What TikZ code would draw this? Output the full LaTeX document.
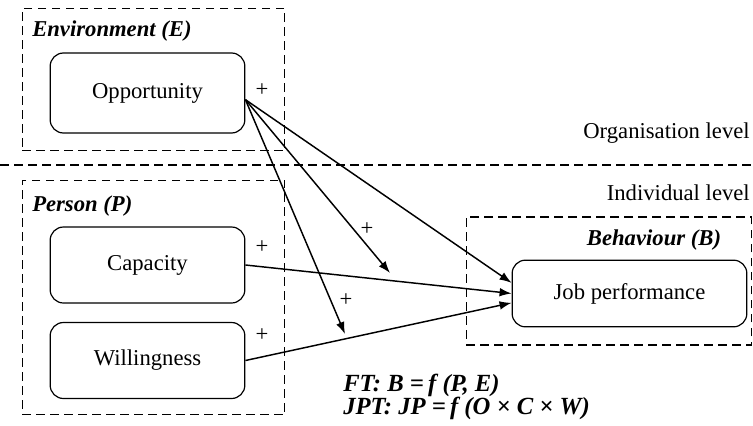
\documentclass[tikz,border=0pt]{standalone}
\usepackage{fontspec}
\setmainfont{Liberation Serif}
\usepackage{tikz}
\usetikzlibrary{arrows.meta, positioning, calc}

\begin{document}
\begin{tikzpicture}[
  x=0.75pt, y=-0.75pt,
  group/.style={rectangle, draw=black, dash pattern=on 6.5pt off 4pt, line width=0.9pt,
                inner sep=0pt},
  factor/.style={rectangle, rounded corners=10pt, draw=black, line width=0.9pt,
                 minimum width=146pt, align=center, font=\fontsize{17}{20}\selectfont},
  grouptitle/.style={font=\fontsize{17}{20}\selectfont\bfseries\itshape, inner sep=0pt},
  level/.style={font=\fontsize{17}{20}\selectfont, inner sep=0pt, anchor=east},
  sign/.style={font=\fontsize{17}{20}\selectfont, inner sep=0pt},
  arrow/.style={-{Latex[length=9pt, width=6.5pt]}, line width=1.1pt},
  formula/.style={font=\fontsize{18.5}{21}\selectfont\bfseries\itshape, inner sep=0pt, anchor=west}
]
  \useasboundingbox (0,0) rectangle (753,425);

  % groups
  \node[group, minimum width=197pt, minimum height=107pt] (env) at (153.5,79.5) {};
  \node[group, minimum width=197pt, minimum height=176pt] (pers) at (153.5,297.5) {};
  \node[group, minimum width=214pt, minimum height=96pt] (beh) at (609,281) {};
  \node[grouptitle, anchor=west] (envt) at (32,31) {Environment (E)};
  \node[grouptitle, anchor=west] (perst) at (32,206) {Person (P)};
  \node[grouptitle] (beht) at (654,240) {Behaviour (B)};

  % levels
  \draw[dash pattern=on 6.5pt off 4pt, line width=0.9pt] (0,165) -- (753,165);
  \node[level] (org) at (750,133) {Organisation level};
  \node[level] (ind) at (750,193) {Individual level};

  % factors
  \node[factor, minimum height=60pt] (opp) at (147.5,93) {Opportunity};
  \node[factor, minimum height=57pt] (cap) at (147.5,265) {Capacity};
  \node[factor, minimum height=57pt] (will) at (147.5,360.5) {Willingness};
  \node[factor, minimum width=176pt, minimum height=50pt] (job) at (629.5,293.5) {Job performance};

  \coordinate (capmod) at (390,273);
  \coordinate (willmod) at (345,334);

  % paths
  \draw[arrow] ([yshift=-5pt]opp.east) -- ([yshift=8pt]job.west);
  \draw[arrow] ([yshift=-5pt]opp.east) -- (capmod);
  \draw[arrow] ([yshift=-5pt]opp.east) -- (willmod);
  \draw[arrow] (cap.east) -- (job.west);
  \draw[arrow] (will.east) -- ([yshift=-7pt]job.west);

  \node[sign] (s1) at (262,90) {+};
  \node[sign] (s2) at (262,247) {+};
  \node[sign] (s3) at (262,335) {+};
  \node[sign] (s4) at (367,229) {+};
  \node[sign] (s5) at (346,300) {+};

  \node[formula] (ft) at (343,385) {FT: B =\,f (P, E)};
  \node[formula] (jpt) at (343,408) {JPT: JP =\,f (O × C × W)};
\end{tikzpicture}
\end{document}
